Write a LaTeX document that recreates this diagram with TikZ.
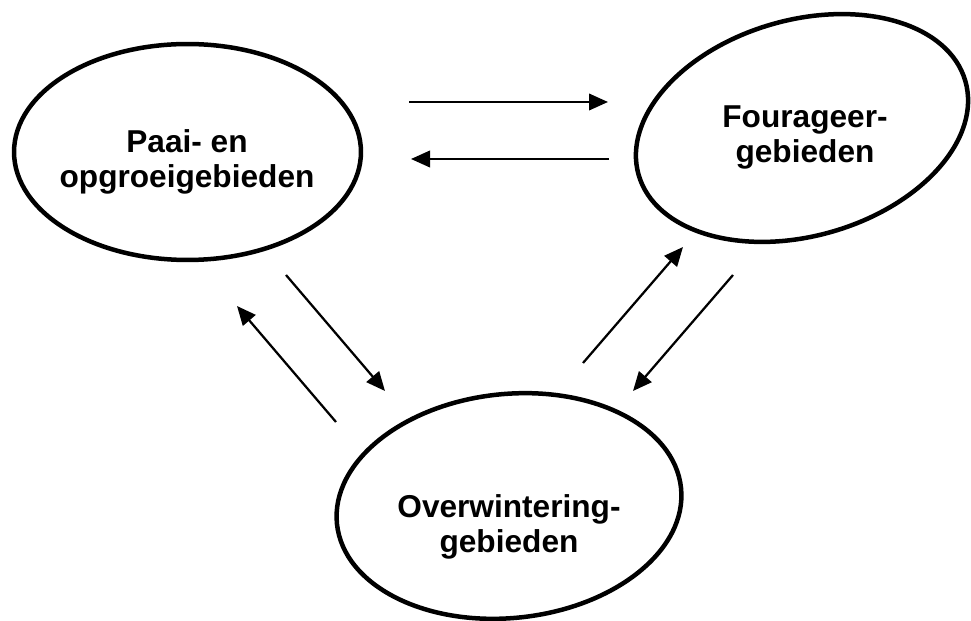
\documentclass[tikz,border=0pt]{standalone}
\usepackage{fontspec}
\setmainfont{Liberation Sans}
\usepackage{tikz}
\usetikzlibrary{shapes.geometric}
\usetikzlibrary{arrows.meta}
\newcommand{\arealw}{0.09cm}
\newcommand{\flowlw}{0.045cm}
\newcommand{\areafont}{\bfseries\fontsize{18}{20}\selectfont}

\tikzset{
  area/.style={draw, ellipse, line width=\arealw, inner sep=0pt},
  areatext/.style={font=\areafont, align=center, anchor=base, inner sep=0pt},
  flow/.style={-{Triangle[length=0.38cm, width=0.33cm]}, line width=\flowlw}
}

\begin{document}
\begin{tikzpicture}[x=0.02cm, y=-0.02cm]

    \useasboundingbox (0,0) rectangle (971,621);

    % gebieden
    \node [area, minimum width=6.94cm, minimum height=4.32cm] (paai) at (187.5,152) {};
    \node [area, minimum width=6.8cm, minimum height=4.32cm, rotate=16] (fourageer) at (802,128) {};
    \node [area, minimum width=6.92cm, minimum height=4.48cm, rotate=6] (overwintering) at (509,506) {};

    \node [areatext] (paaitxt) at (187,188) {Paai- en\\opgroeigebieden};
    \node [areatext] (fouragetxt) at (805,163) {Fourageer-\\gebieden};
    \node [areatext] (overwintertxt) at (509,553) {Overwintering-\\gebieden};

    % eindpunten van de pijlen
    \coordinate (pfa) at (409,102);
    \coordinate (pfb) at (608,102);
    \coordinate (fpa) at (609,159);
    \coordinate (fpb) at (411,159);
    \coordinate (poa) at (286,275);
    \coordinate (pob) at (385,391);
    \coordinate (opa) at (336,422);
    \coordinate (opb) at (237,306);
    \coordinate (ofa) at (583,363);
    \coordinate (ofb) at (683,247);
    \coordinate (foa) at (733,275);
    \coordinate (fob) at (633,391);

    \draw [flow] (pfa) -- (pfb);
    \draw [flow] (fpa) -- (fpb);
    \draw [flow] (poa) -- (pob);
    \draw [flow] (opa) -- (opb);
    \draw [flow] (ofa) -- (ofb);
    \draw [flow] (foa) -- (fob);

\end{tikzpicture}
\end{document}
